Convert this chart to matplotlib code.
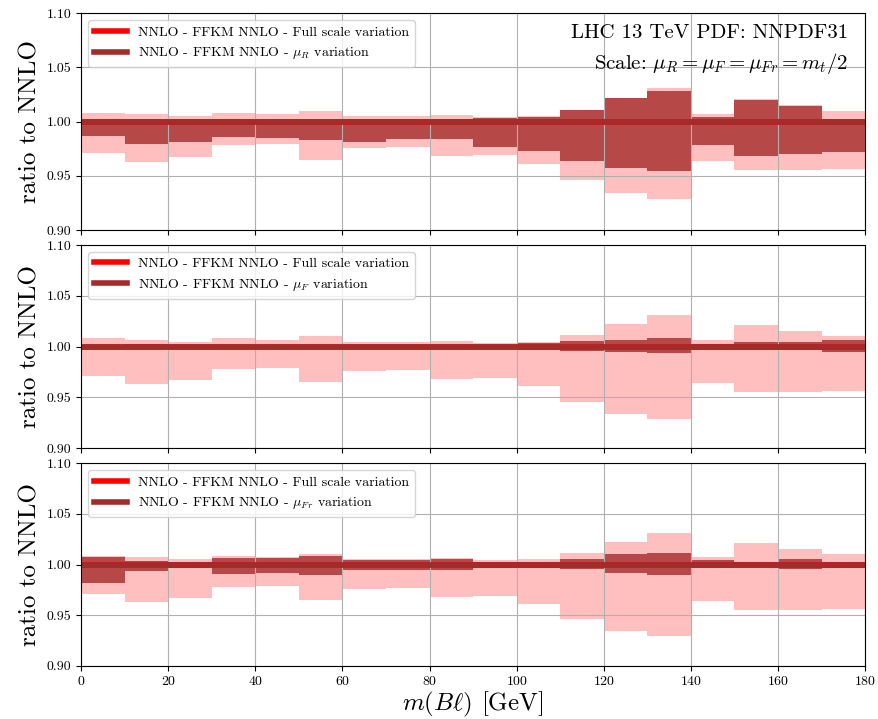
import numpy as np
import matplotlib
matplotlib.use('Agg')
from matplotlib import pyplot as plt

plt.rcParams['font.family'] = 'serif'
plt.rcParams['font.serif'] = ['cmr10', 'DejaVu Serif']
plt.rcParams['mathtext.fontset'] = 'cm'
plt.rcParams['axes.formatter.use_mathtext'] = True

# bin edges in m(B l) [GeV]
edges = np.arange(0, 190, 10)

# full scale variation envelope (same in all three panels)
full_up = [1.008, 1.007, 1.005, 1.008, 1.007, 1.010, 1.005, 1.005, 1.006,
           1.004, 1.005, 1.011, 1.022, 1.031, 1.007, 1.021, 1.015, 1.010]
full_dn = [0.971, 0.963, 0.967, 0.978, 0.979, 0.965, 0.976, 0.977, 0.968,
           0.969, 0.961, 0.946, 0.934, 0.929, 0.964, 0.955, 0.955, 0.956]

# mu_R only
muR_up = [1.002, 1.002, 1.002, 1.002, 1.002, 1.002, 1.002, 1.002, 1.002,
          1.003, 1.004, 1.011, 1.022, 1.028, 1.004, 1.020, 1.0145, 1.002]
muR_dn = [0.987, 0.979, 0.981, 0.9855, 0.985, 0.983, 0.981, 0.984, 0.984,
          0.977, 0.973, 0.964, 0.9575, 0.954, 0.978, 0.968, 0.970, 0.972]

# mu_F only
muF_up = [1.001, 1.0025, 1.001, 1.001, 1.001, 1.001, 1.001, 1.001, 1.001,
          1.001, 1.004, 1.006, 1.007, 1.0085, 1.003, 1.0046, 1.005, 1.0066]
muF_dn = [0.999, 0.999, 0.999, 0.999, 0.999, 0.999, 0.999, 0.999, 0.999,
          0.999, 0.9967, 0.996, 0.9947, 0.9934, 0.997, 0.9967, 0.997, 0.9947]

# mu_Fr only
muFr_up = [1.0079, 1.003, 1.002, 1.0066, 1.006, 1.008, 1.0046, 1.004, 1.0056,
           1.002, 1.002, 1.0056, 1.010, 1.0115, 1.0046, 1.002, 1.005, 1.002]
muFr_dn = [0.982, 0.994, 0.9967, 0.9908, 0.9914, 0.990, 0.9947, 0.995, 0.995,
           0.9967, 0.997, 0.996, 0.9914, 0.990, 0.9967, 0.998, 0.996, 0.997]

# NNLO / NNLO
central = np.ones(len(edges) - 1)

panels = [
    (muR_up, muR_dn, r'$\mu_R$'),
    (muF_up, muF_dn, r'$\mu_F$'),
    (muFr_up, muFr_dn, r'$\mu_{Fr}$'),
]

fig = plt.figure(figsize=(8.79, 7.19), dpi=100, facecolor='white')
rects = [
    [0.0922, 0.6801, 0.8920, 0.3014],
    [0.0922, 0.3765, 0.8920, 0.2828],
    [0.0922, 0.0741, 0.8920, 0.2815],
]

# step line through the bin edges
line_y = np.append(central, central[-1])

axes = []
for i, (up, dn, name) in enumerate(panels):
    ax = fig.add_axes(rects[i], sharex=axes[0] if axes else None)
    axes.append(ax)

    ax.stairs(full_up, edges, baseline=full_dn, fill=True,
              color='red', alpha=0.25, lw=1)
    ax.stairs(up, edges, baseline=dn, fill=True,
              color='brown', alpha=0.8, lw=1)
    ax.plot(edges, line_y, drawstyle='steps-post', color='red', lw=4,
            label='NNLO - FFKM NNLO - Full scale variation')
    ax.plot(edges, line_y, drawstyle='steps-post', color='brown', lw=4,
            label='NNLO - FFKM NNLO - ' + name + ' variation')

    ax.set_xlim(0, 180)
    ax.set_ylim(0.9, 1.1)
    ax.set_yticks([0.90, 0.95, 1.00, 1.05, 1.10])
    ax.set_yticklabels(['0.90', '0.95', '1.00', '1.05', '1.10'])
    ax.set_xticks(np.arange(0, 200, 20))
    ax.tick_params(labelsize=10)
    ax.grid(True, color='#b0b0b0', lw=0.8)
    ax.set_ylabel('ratio to NNLO', fontsize=18)
    ax.yaxis.set_label_coords(-0.051, 0.5)
    ax.legend(loc='upper left', fontsize=10, handlelength=2.4)
    if i < 2:
        ax.tick_params(labelbottom=False)

axes[0].text(0.978, 0.885, 'LHC 13 TeV PDF: NNPDF31', transform=axes[0].transAxes,
             ha='right', va='baseline', fontsize=15)
axes[0].text(0.978, 0.743, r'Scale: $\mu_R = \mu_F = \mu_{Fr} = m_t/2$',
             transform=axes[0].transAxes, ha='right', va='baseline', fontsize=15)

axes[2].set_xlabel(r'$m(B\ell)$ [GeV]', fontsize=18, labelpad=1)

fig.savefig('out.png', dpi=100)
